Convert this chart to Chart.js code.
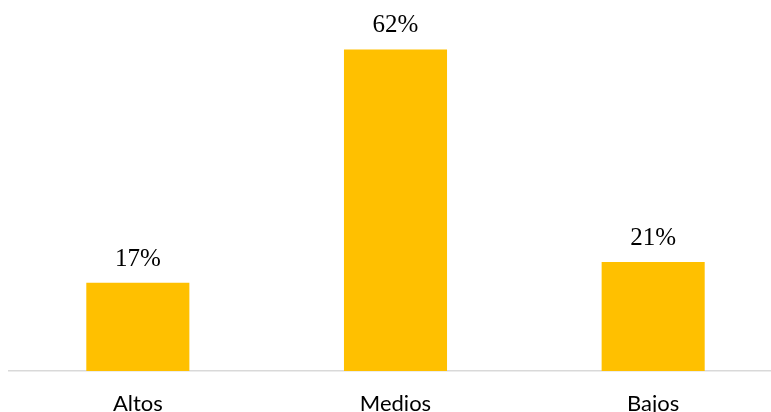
<!DOCTYPE html>
<html>
<head>
<meta charset="utf-8">
<script src="https://cdn.jsdelivr.net/npm/chart.js@4"></script>
<style>
  html, body { margin: 0; padding: 0; background: #fff; overflow: hidden; }
  #wrap { position: relative; width: 782px; height: 412px; }
</style>
</head>
<body>
<div id="wrap"><canvas id="chart"></canvas></div>
<script>
// Data
var categories = ['Altos', 'Medios', 'Bajos'];
var values = [17, 62, 21];
var valueLabels = ['17%', '62%', '21%'];

// Simple value labels above bars (no datalabels plugin offline)
var barLabels = {
  id: 'barLabels',
  afterDatasetsDraw: function (chart) {
    var ctx = chart.ctx;
    var meta = chart.getDatasetMeta(0);
    ctx.save();
    ctx.font = '25px "Liberation Serif", "Times New Roman", serif';
    ctx.fillStyle = '#000';
    ctx.textAlign = 'center';
    ctx.textBaseline = 'alphabetic';
    meta.data.forEach(function (bar, i) {
      ctx.fillText(valueLabels[i], bar.x, bar.y - 17);
    });
    ctx.restore();
  }
};

new Chart(document.getElementById('chart').getContext('2d'), {
  type: 'bar',
  data: {
    labels: categories,
    datasets: [{
      data: values,
      backgroundColor: '#FFC000',
      borderWidth: 0,
      categoryPercentage: 1,
      barPercentage: 0.4
    }]
  },
  options: {
    responsive: true,
    maintainAspectRatio: false,
    animation: false,
    layout: { padding: { top: 8, left: 9, right: 0, bottom: 0 } },
    scales: {
      x: {
        grid: { display: false },
        border: { color: '#d9d9d9', width: 1.5 },
        afterFit: function (scale) { scale.height = 41; },
        ticks: {
          color: '#000',
          padding: 12,
          font: { family: 'Lato, "Open Sans", sans-serif', size: 22 }
        }
      },
      y: {
        display: false,
        min: 0,
        max: 70
      }
    },
    plugins: {
      legend: { display: false },
      tooltip: { enabled: false }
    }
  },
  plugins: [barLabels]
});
</script>
</body>
</html>
